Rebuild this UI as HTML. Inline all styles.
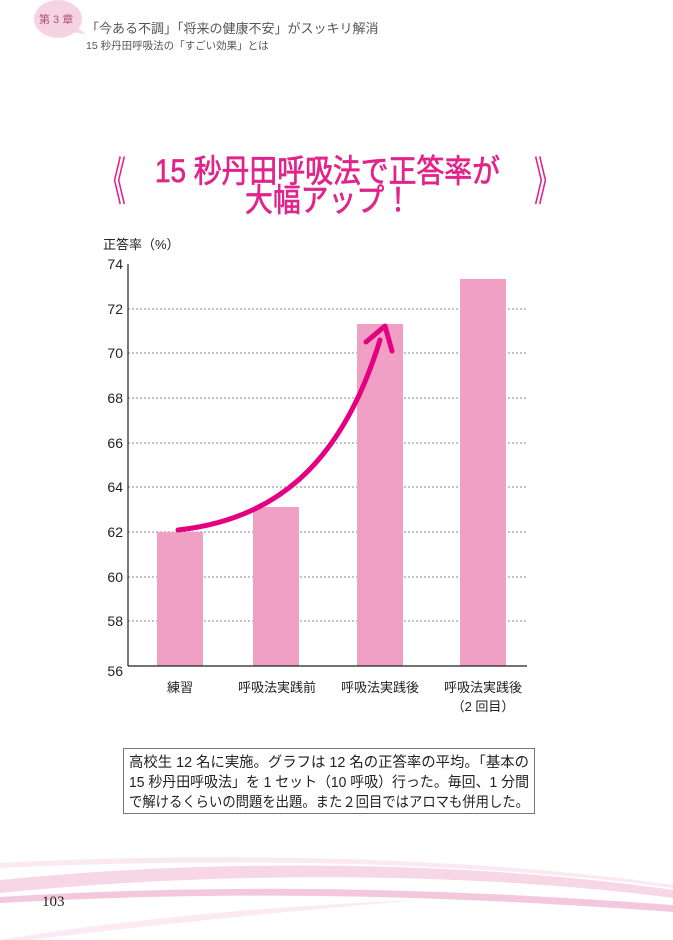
<!DOCTYPE html>
<html><head><meta charset="utf-8"><style>
html,body{margin:0;padding:0;background:#fff;}
svg{display:block;}
text{font-family:"Liberation Sans","Noto Sans CJK JP",sans-serif;}
</style></head><body>
<svg width="673" height="940" viewBox="0 0 673 940" xmlns="http://www.w3.org/2000/svg">
<!-- header -->
<ellipse cx="58" cy="19" rx="24" ry="19" fill="#f6d3e3"/>
<path d="M70 32 L86 34 L74 26 Z" fill="#f6d3e3"/>
<text x="39" y="23" font-size="11" fill="#b0507a">第 3 章</text>
<text x="86" y="33" font-size="13" fill="#555">「今ある不調」「将来の健康不安」がスッキリ解消</text>
<text x="86" y="49" font-size="10.5" fill="#555">15 秒丹田呼吸法の「すごい効果」とは</text>
<!-- title -->
<text x="113" y="200" font-size="52" fill="#e0248a" text-anchor="middle" textLength="26" lengthAdjust="spacingAndGlyphs">《</text>
<text x="547" y="200" font-size="52" fill="#e0248a" text-anchor="middle" textLength="26" lengthAdjust="spacingAndGlyphs">》</text>
<g fill="#e0248a" stroke="#e0248a" stroke-width="0.7">
<text x="155" y="182" font-size="32" textLength="345" lengthAdjust="spacingAndGlyphs">15 秒丹田呼吸法で正答率が</text>
<text x="245" y="211" font-size="32" textLength="167" lengthAdjust="spacingAndGlyphs">大幅アップ！</text>
</g>
<!-- chart -->
<text x="103" y="249" font-size="13" fill="#222">正答率（%）</text>
<g stroke="#888" stroke-width="1" stroke-dasharray="2,2">
<line x1="128" y1="309" x2="527" y2="309"/><line x1="128" y1="353" x2="527" y2="353"/>
<line x1="128" y1="398" x2="527" y2="398"/><line x1="128" y1="443" x2="527" y2="443"/>
<line x1="128" y1="487" x2="527" y2="487"/><line x1="128" y1="532" x2="527" y2="532"/>
<line x1="128" y1="577" x2="527" y2="577"/><line x1="128" y1="621" x2="527" y2="621"/>
</g>
<g fill="#f0a0c4">
<rect x="157" y="532" width="46" height="134"/>
<rect x="253" y="507" width="46" height="159"/>
<rect x="357" y="324" width="46" height="342"/>
<rect x="460" y="279" width="46" height="387"/>
</g>
<line x1="128" y1="264" x2="128" y2="666" stroke="#222" stroke-width="1.2"/>
<line x1="128" y1="666" x2="527" y2="666" stroke="#222" stroke-width="1.2"/>
<g font-size="14" fill="#222" text-anchor="end">
<text x="123" y="269">74</text><text x="123" y="314">72</text><text x="123" y="358">70</text>
<text x="123" y="403">68</text><text x="123" y="448">66</text><text x="123" y="492">64</text>
<text x="123" y="537">62</text><text x="123" y="582">60</text><text x="123" y="626">58</text>
<text x="123" y="676">56</text>
</g>
<g font-size="13" fill="#222" text-anchor="middle">
<text x="180" y="692">練習</text>
<text x="277" y="692">呼吸法実践前</text>
<text x="380" y="692">呼吸法実践後</text>
<text x="483" y="692">呼吸法実践後</text>
<text x="483" y="711">（2 回目）</text>
</g>
<path d="M178 530 C 270 520, 340 470, 380 340" fill="none" stroke="#e4007f" stroke-width="5" stroke-linecap="round"/>
<path d="M366 342 L385 326 L392 351" fill="none" stroke="#e4007f" stroke-width="5" stroke-linecap="round" stroke-linejoin="round"/>
<!-- note box -->
<rect x="123.5" y="748.5" width="411" height="65" fill="#fff" stroke="#777" stroke-width="1"/>
<g font-size="14.5" fill="#222">
<text x="129" y="767" textLength="400" lengthAdjust="spacingAndGlyphs">高校生 12 名に実施。グラフは 12 名の正答率の平均。「基本の</text>
<text x="129" y="787" textLength="400" lengthAdjust="spacingAndGlyphs">15 秒丹田呼吸法」を 1 セット（10 呼吸）行った。毎回、1 分間</text>
<text x="129" y="807" textLength="400" lengthAdjust="spacingAndGlyphs">で解けるくらいの問題を出題。また２回目ではアロマも併用した。</text>
</g>
<!-- footer swooshes -->
<path d="M0 880 C 250 855, 500 865, 673 890 L673 898 C 500 875, 250 868, 0 893 Z" fill="#f7d6e6"/>
<path d="M0 863 C 250 850, 500 860, 673 885 L673 888 C 500 864, 250 856, 0 868 Z" fill="#fbe9f1"/>
<path d="M0 897 C 200 885, 400 885, 673 905 L673 912 C 400 892, 200 892, 0 903 Z" fill="#f4c8dc"/>
<path d="M0 940 C 150 915, 300 905, 420 900 C 300 910, 150 925, 30 940 Z" fill="#fbeaf2"/>
<text x="42" y="906" font-size="15" fill="#222" style="font-family:'Liberation Serif',serif">103</text>
</svg>
</body></html>
